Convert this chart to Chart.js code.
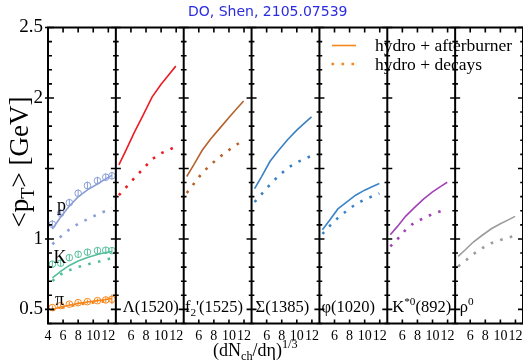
<!DOCTYPE html>
<html><head><meta charset="utf-8">
<script src="https://cdn.jsdelivr.net/npm/chart.js@4.4.1/dist/chart.umd.min.js"></script>
<style>html,body{margin:0;padding:0;overflow:hidden;background:#fff;}#wrap{width:528px;height:364px;}</style>
</head><body><div id="wrap"><canvas id="c" width="528" height="364"></canvas></div>
<script>
// ---------- data ----------
const xBins  = [4.58, 5.68, 6.83, 8.0, 9.23, 10.56, 11.66, 12.48];   // (dNch/deta)^(1/3), identified hadrons
const xModel = [4.4, 5.35, 6.45, 7.6, 8.8, 10.0, 11.05, 11.95];      // (dNch/deta)^(1/3), resonances
const xTickValues = [4, 6, 8, 10, 12];
const yTickLabels = [0.5, 1, 2, 2.5];
const panelNames = ['', 'Λ(1520)', "f_2'(1525)", 'Σ(1385)', 'φ(1020)', 'K^{*0}(892)', 'ρ^0'];
const hadronNames = ['π', 'K', 'p'];
const legendLabels = ['hydro + afterburner', 'hydro + decays'];

const pionData   = [0.513, 0.527, 0.537, 0.548, 0.555, 0.562, 0.567, 0.572];
const pionErr    = [0.015, 0.015, 0.015, 0.015, 0.015, 0.015, 0.02, 0.035];
const pionHydro  = [0.500, 0.517, 0.530, 0.543, 0.553, 0.562, 0.570, 0.578];
const pionDecays = [0.495, 0.510, 0.522, 0.534, 0.544, 0.552, 0.559, 0.566];

const kaonData   = [0.821, 0.828, 0.867, 0.891, 0.906, 0.917, 0.920, 0.917];
const kaonErr    = [0.022, 0.022, 0.022, 0.022, 0.022, 0.022, 0.022, 0.022];
const kaonHydro  = [0.723, 0.770, 0.812, 0.844, 0.869, 0.890, 0.904, 0.910];
const kaonDecays = [0.702, 0.748, 0.778, 0.801, 0.819, 0.837, 0.851, 0.865];

const protonData   = [1.104, 1.182, 1.257, 1.324, 1.379, 1.413, 1.438, 1.448];
const protonErr    = [0.028, 0.028, 0.028, 0.028, 0.028, 0.028, 0.028, 0.028];
const protonHydro  = [1.071, 1.156, 1.234, 1.298, 1.348, 1.390, 1.426, 1.452];
const protonDecays = [0.962, 1.016, 1.067, 1.107, 1.140, 1.174, 1.199, 1.218];

const lambdaHydro  = [1.525, 1.630, 1.756, 1.877, 2.006, 2.097, 2.167, 2.226];
const lambdaDecays = [1.310, 1.365, 1.431, 1.497, 1.565, 1.608, 1.632, 1.655];
const f2Hydro      = [1.443, 1.527, 1.629, 1.711, 1.786, 1.862, 1.926, 1.979];
const f2Decays     = [1.326, 1.392, 1.468, 1.528, 1.583, 1.631, 1.670, 1.701];
const sigmaHydro   = [1.357, 1.444, 1.551, 1.629, 1.706, 1.772, 1.823, 1.866];
const sigmaDecays  = [1.262, 1.319, 1.386, 1.448, 1.504, 1.543, 1.569, 1.589];
const phiHydro     = [1.065, 1.132, 1.213, 1.261, 1.310, 1.346, 1.372, 1.393];
const phiDecays    = [1.035, 1.091, 1.149, 1.199, 1.246, 1.280, 1.303, 1.323];
const kstarHydro   = [1.030, 1.089, 1.162, 1.222, 1.282, 1.334, 1.371, 1.402];
const kstarDecays  = [0.947, 0.998, 1.066, 1.117, 1.146, 1.177, 1.196, 1.215];
const rhoHydro     = [0.876, 0.923, 0.980, 1.026, 1.072, 1.108, 1.135, 1.160];
const rhoDecays    = [0.805, 0.844, 0.894, 0.935, 0.970, 0.992, 1.009, 1.024];

// ---------- styles ----------
const SERIF = '"Liberation Serif", "Times New Roman", serif';
const C = { pi:'#f7861c', K:'#55bf9b', p:'#8c9ed8', lam:'#ec1c24', f2:'#b5622c',
            sig:'#3a80c2', phi:'#3a84c8', kst:'#a342b6', rho:'#9c9c9c', legend:'#f7861c' };
const NP = 7, PW = 9, X0 = 4;          // 7 panels, each spanning x = 4..13
const gx = (panel, x) => panel * PW + (x - X0);

// ---------- datasets ----------
const datasets = [];
const errorSets = [];
function addLine(panel, xs, ys, color, dotted) {
  datasets.push({
    data: xs.map((x, i) => ({ x: gx(panel, x), y: ys[i] })),
    showLine: true, tension: 0, fill: false, pointRadius: 0,
    borderColor: color, borderWidth: dotted ? 2.6 : 1.6,
    borderDash: dotted ? [2.6, 7.4] : [], borderCapStyle: 'butt'
  });
}
function addPoints(panel, xs, ys, errs, color) {
  datasets.push({
    data: xs.map((x, i) => ({ x: gx(panel, x), y: ys[i] })),
    showLine: false, pointStyle: 'circle', pointRadius: 3.3, borderWidth: 1,
    borderColor: color, backgroundColor: 'rgba(0,0,0,0)'
  });
  errorSets.push({ xs: xs.map(x => gx(panel, x)), ys, errs, color });
}
addLine(0, xBins, pionHydro, C.pi, false);   addLine(0, xBins, pionDecays, C.pi, true);
addPoints(0, xBins, pionData, pionErr, C.pi);
addLine(0, xBins, kaonHydro, C.K, false);    addLine(0, xBins, kaonDecays, C.K, true);
addPoints(0, xBins, kaonData, kaonErr, C.K);
addLine(0, xBins, protonHydro, C.p, false);  addLine(0, xBins, protonDecays, C.p, true);
addPoints(0, xBins, protonData, protonErr, C.p);
addLine(1, xModel, lambdaHydro, C.lam, false); addLine(1, xModel, lambdaDecays, C.lam, true);
addLine(2, xModel, f2Hydro, C.f2, false);      addLine(2, xModel, f2Decays, C.f2, true);
addLine(3, xModel, sigmaHydro, C.sig, false);  addLine(3, xModel, sigmaDecays, C.sig, true);
addLine(4, xModel, phiHydro, C.phi, false);    addLine(4, xModel, phiDecays, C.phi, true);
addLine(5, xModel, kstarHydro, C.kst, false);  addLine(5, xModel, kstarDecays, C.kst, true);
addLine(6, xModel, rhoHydro, C.rho, false);    addLine(6, xModel, rhoDecays, C.rho, true);

// ---------- rich text helper (sub/superscripts) ----------
function parseRich(s) {
  const segs = []; let i = 0, buf = '';
  const flush = () => { if (buf) { segs.push({ t: buf, k: 0 }); buf = ''; } };
  while (i < s.length) {
    const ch = s[i];
    if (ch === '_' || ch === '^') {
      flush();
      let t;
      if (s[i + 1] === '{') { const j = s.indexOf('}', i + 2); t = s.slice(i + 2, j); i = j + 1; }
      else { t = s[i + 1]; i += 2; }
      segs.push({ t, k: ch === '_' ? 1 : -1 });
    } else { buf += ch; i++; }
  }
  flush();
  return segs;
}
function drawRich(ctx, str, x, y, size, align) {
  const segs = parseRich(str);
  const small = size * 0.68;
  let w = 0;
  segs.forEach(sg => { ctx.font = (sg.k ? small : size) + 'px ' + SERIF; sg.w = ctx.measureText(sg.t).width; w += sg.w; });
  let cx = align === 'center' ? x - w / 2 : x;
  ctx.textAlign = 'left'; ctx.textBaseline = 'alphabetic';
  segs.forEach(sg => {
    ctx.font = (sg.k ? small : size) + 'px ' + SERIF;
    const dy = sg.k === 1 ? size * 0.22 : (sg.k === -1 ? -size * 0.42 : 0);
    ctx.fillText(sg.t, cx, y + dy);
    cx += sg.w;
  });
}

// ---------- decoration plugin ----------
const deco = {
  id: 'deco',
  afterDatasetsDraw(chart) {
    const { ctx, chartArea: a, scales: { x, y } } = chart;
    ctx.save();
    // error bars
    errorSets.forEach(es => {
      ctx.strokeStyle = es.color; ctx.lineWidth = 1;
      es.xs.forEach((xv, i) => {
        const px = x.getPixelForValue(xv);
        ctx.beginPath();
        ctx.moveTo(px, y.getPixelForValue(es.ys[i] - es.errs[i]));
        ctx.lineTo(px, y.getPixelForValue(es.ys[i] + es.errs[i]));
        ctx.stroke();
      });
    });
    // frame and panel borders
    ctx.strokeStyle = '#000'; ctx.lineWidth = 2;
    ctx.beginPath();
    ctx.moveTo(a.left, a.top); ctx.lineTo(a.right, a.top);
    ctx.moveTo(a.left, a.bottom); ctx.lineTo(a.right, a.bottom);
    for (let i = 0; i <= NP; i++) {
      const px = x.getPixelForValue(i * PW);
      ctx.moveTo(px, a.top - 1); ctx.lineTo(px, a.bottom + 1);
    }
    ctx.stroke();
    // y ticks on every border
    ctx.lineWidth = 1.6;
    ctx.beginPath();
    for (let k = 4; k <= 25; k++) {
      const py = y.getPixelForValue(k / 10);
      const major = k % 5 === 0;
      for (let i = 0; i <= NP; i++) {
        const px = x.getPixelForValue(i * PW);
        if (i === 0) { ctx.moveTo(px - (major ? 3 : 0), py); ctx.lineTo(px + (major ? 6 : 4), py); }
        else { const l = major ? 5 : 2.8; ctx.moveTo(px - l, py); ctx.lineTo(px + l, py); }
      }
    }
    // x ticks top (down) and bottom (up)
    for (let i = 0; i < NP; i++) {
      xTickValues.slice(1).forEach(t => {
        const px = x.getPixelForValue(gx(i, t));
        ctx.moveTo(px, a.top); ctx.lineTo(px, a.top + 5);
        ctx.moveTo(px, a.bottom); ctx.lineTo(px, a.bottom - 4);
      });
    }
    ctx.stroke();
    ctx.restore();
  },
  afterDraw(chart) {
    const { ctx, chartArea: a, scales: { x, y } } = chart;
    ctx.save();
    ctx.fillStyle = '#000';
    // hadron labels in first panel
    const p0 = x.getPixelForValue(0);
    drawRich(ctx, hadronNames[0], p0 + 7, 305, 18);
    drawRich(ctx, hadronNames[1], p0 + 5.5, 263, 18);
    drawRich(ctx, hadronNames[2], p0 + 9, 211, 18);
    // panel names
    const offs = [0, 7, 1.3, 4, 2, 5, 4.5];
    for (let i = 1; i < NP; i++) {
      drawRich(ctx, panelNames[i], x.getPixelForValue(i * PW) + offs[i], 312, 16.5);
    }
    // axis titles
    drawRich(ctx, '(dN_{ch}/dη)^{1/3}', 213, 356, 18);
    ctx.save();
    ctx.translate(28, 162);
    ctx.rotate(-Math.PI / 2);
    drawRich(ctx, '<p_T> [GeV]', 0, 0, 27, 'center');
    ctx.restore();
    // legend
    ctx.strokeStyle = C.legend; ctx.lineWidth = 1.6;
    ctx.beginPath(); ctx.moveTo(332, 45.5); ctx.lineTo(356, 45.5); ctx.stroke();
    ctx.lineWidth = 2.6; ctx.setLineDash([2.6, 7.4]);
    ctx.beginPath(); ctx.moveTo(331.5, 64); ctx.lineTo(356, 64); ctx.stroke();
    ctx.setLineDash([]);
    drawRich(ctx, legendLabels[0], 375, 51, 17.5);
    drawRich(ctx, legendLabels[1], 375, 70, 17.5);
    ctx.restore();
  }
};

// ---------- chart ----------
const W = 528, H = 364, RIGHT = 525.5;
new Chart(document.getElementById('c'), {
  type: 'scatter',
  data: { datasets },
  options: {
    responsive: false, animation: false, devicePixelRatio: 1, events: [],
    layout: { padding: { left: 10, right: W - RIGHT, top: 0, bottom: 0 } },
    plugins: {
      legend: { display: false }, tooltip: { enabled: false },
      title: { display: true, text: 'DO, Shen, 2105.07539', color: '#2b2be0',
               font: { family: '"DejaVu Sans", sans-serif', size: 14, weight: 'normal', lineHeight: 1.2 },
               padding: { top: 4.4, bottom: 6.3 } }
    },
    scales: {
      x: {
        type: 'linear', min: 0, max: NP * PW,
        grid: { display: false, drawTicks: false }, border: { display: false },
        afterBuildTicks: s => {
          const t = [];
          for (let i = 0; i < NP; i++) xTickValues.forEach(v => { if (i === 0 || v !== 4) t.push({ value: gx(i, v) }); });
          s.ticks = t;
        },
        afterFit: s => { s.height = H - 323.5; },
        ticks: {
          autoSkip: false, maxRotation: 0, minRotation: 0, padding: 4, color: '#000',
          font: { family: SERIF, size: 14 },
          callback: v => String(Math.round(v - Math.floor((v + 1e-6) / PW) * PW + X0))
        }
      },
      y: {
        type: 'linear', min: 0.4, max: 2.5,
        grid: { display: false, drawTicks: false }, border: { display: false },
        afterBuildTicks: s => { const t = []; for (let k = 4; k <= 25; k++) t.push({ value: k / 10 }); s.ticks = t; },
        afterFit: s => { s.width = 38; },
        ticks: {
          autoSkip: false, padding: 5, color: '#000', font: { family: SERIF, size: 19 },
          callback: v => { const m = yTickLabels.find(l => Math.abs(l - v) < 1e-6); return m === undefined ? '' : String(m); }
        }
      }
    }
  },
  plugins: [deco]
});
</script></body></html>
